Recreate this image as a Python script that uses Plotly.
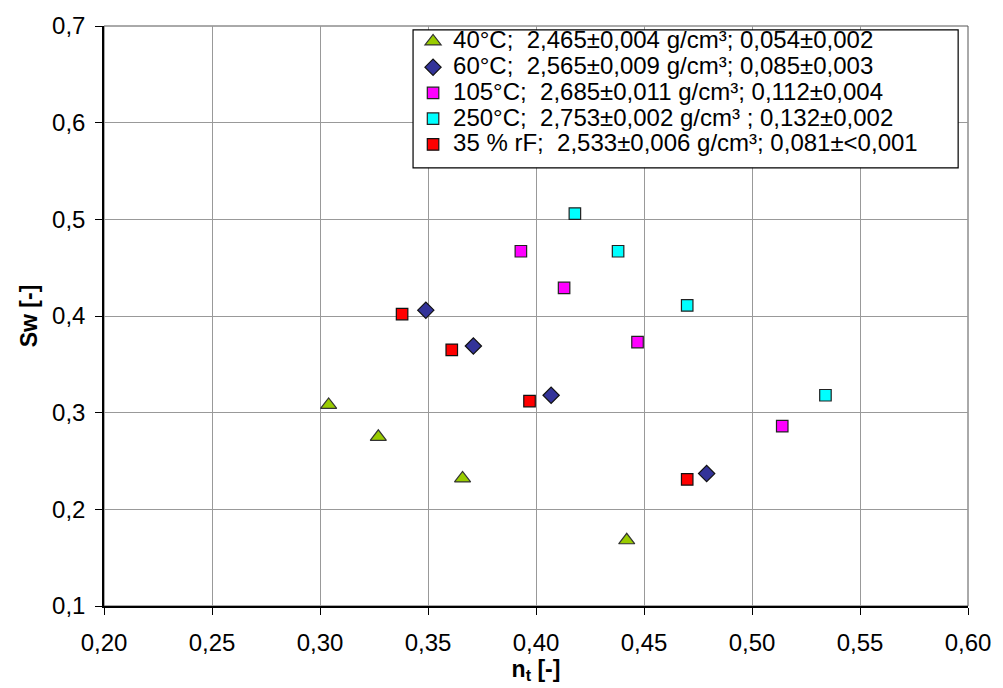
import plotly.graph_objects as go

# Data
names = [
    "40°C;\u00a0 2,465±0,004 g/cm³; 0,054±0,002",
    "60°C;\u00a0 2,565±0,009 g/cm³; 0,085±0,003",
    "105°C;\u00a0 2,685±0,011 g/cm³; 0,112±0,004",
    "250°C;\u00a0 2,753±0,002 g/cm³ ; 0,132±0,002",
    "35 % rF;\u00a0 2,533±0,006 g/cm³; 0,081±<0,001",
]
x_40 = [0.304, 0.327, 0.366, 0.442]
y_40 = [0.308, 0.275, 0.232, 0.168]
x_60 = [0.349, 0.371, 0.407, 0.479]
y_60 = [0.406, 0.369, 0.318, 0.237]
x_105 = [0.393, 0.413, 0.447, 0.514]
y_105 = [0.467, 0.429, 0.373, 0.286]
x_250 = [0.418, 0.438, 0.470, 0.534]
y_250 = [0.506, 0.467, 0.411, 0.318]
x_35 = [0.338, 0.361, 0.397, 0.470]
y_35 = [0.402, 0.365, 0.312, 0.231]

x_ticks = [0.20, 0.25, 0.30, 0.35, 0.40, 0.45, 0.50, 0.55, 0.60]
y_ticks = [0.1, 0.2, 0.3, 0.4, 0.5, 0.6, 0.7]

series = [
    (x_40, y_40, names[0], "triangle-up", "#99CC00", "#333333", 14),
    (x_60, y_60, names[1], "diamond", "#333399", "#111111", 12.5),
    (x_105, y_105, names[2], "square", "#FF00FF", "#222222", 11.5),
    (x_250, y_250, names[3], "square", "#00FFFF", "#222222", 11.5),
    (x_35, y_35, names[4], "square", "#FF0000", "#111111", 11.5),
]

LEG_TEXT_PX = 24

fig = go.Figure()
for xs, ys, nm, sym, col, lc, sz in series:
    fig.add_trace(go.Scatter(
        x=xs, y=ys, mode="markers",
        name='<span style="font-size:%dpx">%s</span>' % (LEG_TEXT_PX, nm),
        marker=dict(symbol=sym, color=col, size=sz, line=dict(color=lc, width=1.2)),
    ))

font_family = "Liberation Sans, Arial, sans-serif"
fig.update_layout(
    width=1003, height=688,
    margin=dict(l=104, r=24, t=17, b=82),
    paper_bgcolor="white", plot_bgcolor="white",
    separators=",.",
    font=dict(family=font_family, size=24, color="black"),
    showlegend=True,
    legend=dict(
        x=0.3577, y=1.0042, xanchor="left", yanchor="top",
        bgcolor="rgba(0,0,0,0)", borderwidth=0,
        font=dict(size=17.5, family=font_family),
        itemsizing="trace", tracegroupgap=0,
    ),
    xaxis=dict(
        range=[0.20, 0.60], tickvals=x_ticks, tickformat=".2f",
        showgrid=True, gridcolor="#999999", gridwidth=1,
        showline=True, linecolor="black", linewidth=1.5, mirror=False,
        ticks="outside", ticklen=7, tickcolor="black",
        ticklabelstandoff=7,
        zeroline=False, tickfont=dict(size=24),
        title=dict(text="<b>n<sub>t</sub> [-]</b>", standoff=0, font=dict(size=23)),
    ),
    yaxis=dict(
        range=[0.1, 0.7], tickvals=y_ticks, tickformat=".1f",
        showgrid=True, gridcolor="#999999", gridwidth=1,
        showline=True, linecolor="black", linewidth=1.5, mirror=False,
        ticks="outside", ticklen=7, tickcolor="black",
        ticklabelstandoff=5,
        zeroline=False, tickfont=dict(size=24),
        title=dict(text="<b>Sw [-]</b>", standoff=8, font=dict(size=23)),
    ),
)
# plot frame on top/right
fig.add_shape(type="rect", xref="paper", yref="paper", x0=0, y0=0, x1=1, y1=1,
              line=dict(color="#555555", width=1), layer="below")
# legend box
fig.add_shape(type="rect", xref="paper", yref="paper",
              x0=0.3577, x1=0.9886, y0=0.7555, y1=0.9932,
              line=dict(color="black", width=1.2), fillcolor="white", layer="above")

fig.write_html("out.html")
